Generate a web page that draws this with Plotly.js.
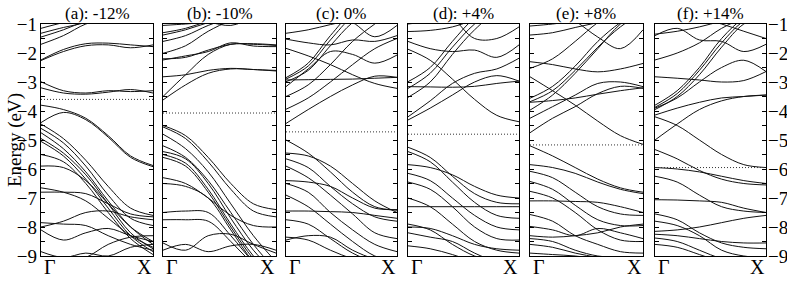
<!DOCTYPE html>
<html><head><meta charset="utf-8">
<script src="https://cdn.plot.ly/plotly-3.0.1.min.js"></script>
<style>html,body{margin:0;padding:0;background:#fff}#chart{width:787px;height:282px}</style>
</head><body><div id="chart"></div>
<script>
// k-path sample positions (Γ = 0, X = 1)
const K = [0, 0.2, 0.4, 0.6, 0.8, 1.0];
const panelTitles = ["(a): -12%", "(b): -10%", "(c): 0%", "(d): +4%", "(e): +8%", "(f): +14%"];
const kLabels = ["Γ", "X"];
const yAxisTitle = "Energy (eV)";
const fermiLevels = [-3.6, -4.07, -4.72, -4.8, -5.17, -5.95];
const yTickVals = [-9, -8, -7, -6, -5, -4, -3, -2, -1];

// (a) -12%
const bandsA = [
  [-1.15, -0.95, -0.8, -0.6, -0.5, -0.5],
  [-1.32, -1.12, -0.95, -0.7, -0.6, -0.5],
  [-1.45, -1.2, -0.9, -0.7, -0.6, -0.6],
  [-1.7, -1.4, -1.0, -0.8, -0.7, -0.7],
  [-2.24, -1.88, -1.68, -1.66, -1.72, -1.78],
  [-2.26, -1.95, -1.75, -1.72, -1.82, -1.72],
  [-2.99, -3.3, -3.38, -3.3, -3.33, -3.3],
  [-3.2, -3.38, -3.42, -3.35, -3.26, -3.38],
  [-3.8, -3.95, -4.25, -4.85, -5.55, -5.88],
  [-4.4, -4.05, -4.3, -4.9, -5.6, -5.92],
  [-4.45, -4.95, -5.7, -6.6, -7.35, -7.6],
  [-4.6, -5.1, -5.9, -6.9, -7.7, -7.95],
  [-4.75, -5.3, -6.1, -7.1, -8.0, -8.6],
  [-4.95, -5.45, -6.2, -7.2, -8.2, -8.75],
  [-5.05, -5.55, -6.35, -7.35, -8.3, -8.85],
  [-5.5, -5.75, -6.5, -7.5, -8.4, -8.95],
  [-5.9, -5.95, -6.4, -7.2, -8.0, -8.5],
  [-6.65, -6.8, -7.1, -7.7, -8.3, -8.7],
  [-6.8, -6.8, -6.85, -7.2, -7.55, -7.65],
  [-7.85, -7.9, -7.95, -8.3, -8.6, -8.8],
  [-8.0, -7.8, -7.5, -7.45, -7.65, -7.75],
  [-8.1, -8.45, -8.2, -8.05, -8.3, -8.5],
  [-8.85, -9.05, -8.9, -9.0, -8.7, -8.6],
  [-9.3, -9.2, -9.05, -8.6, -8.35, -8.3]
];
// (b) -10%
const bandsB = [
  [-1.05, -1.0, -0.95, -1.05, -0.8, -0.7],
  [-1.3, -1.15, -0.9, -0.7, -0.6, -0.6],
  [-1.38, -1.2, -0.95, -0.75, -0.7, -0.7],
  [-1.6, -1.4, -1.05, -0.8, -0.7, -0.7],
  [-2.01, -1.75, -1.25, -0.9, -0.8, -0.8],
  [-2.24, -2.1, -1.95, -1.65, -1.76, -1.78],
  [-2.2, -2.15, -1.9, -1.7, -1.68, -1.72],
  [-2.82, -2.75, -2.6, -2.53, -2.57, -2.6],
  [-3.5, -2.75, -2.05, -1.7, -1.7, -1.74],
  [-3.62, -3.1, -2.7, -2.55, -2.57, -2.62],
  [-4.5, -4.85, -5.6, -6.5, -7.2, -7.4],
  [-4.55, -4.95, -5.75, -6.7, -7.45, -7.65],
  [-4.8, -5.3, -6.1, -7.2, -8.3, -9.2],
  [-5.2, -5.6, -6.4, -7.5, -8.6, -9.5],
  [-5.4, -5.65, -6.5, -7.7, -8.8, -9.6],
  [-5.5, -5.8, -6.7, -7.9, -9.0, -9.8],
  [-5.6, -5.9, -6.8, -8.0, -9.1, -9.9],
  [-6.3, -6.5, -7.0, -7.6, -7.95, -8.0],
  [-6.5, -6.6, -7.0, -8.1, -9.2, -9.9],
  [-7.5, -7.45, -7.5, -8.3, -9.2, -9.8],
  [-7.75, -7.75, -7.8, -8.5, -9.3, -10.0],
  [-8.55, -8.8, -8.3, -8.25, -8.6, -8.9],
  [-8.8, -8.6, -8.85, -8.65, -8.6, -8.8]
];
// (c) 0%
const bandsC = [
  [-1.32, -1.2, -1.02, -0.85, -0.7, -0.6],
  [-0.4, -0.5, -0.7, -0.95, -1.44, -1.05],
  [-1.52, -1.65, -1.72, -1.55, -1.6, -1.4],
  [-1.84, -2.1, -2.4, -2.75, -3.05, -3.22],
  [-2.93, -2.92, -2.91, -2.9, -2.87, -2.84],
  [-2.85, -2.35, -1.4, -0.6, -0.3, -0.2],
  [-2.9, -2.45, -1.55, -0.75, -0.4, -0.3],
  [-2.99, -2.6, -1.75, -0.95, -0.5, -0.4],
  [-3.16, -2.55, -1.95, -2.05, -2.35, -2.07],
  [-3.5, -3.1, -2.4, -1.6, -1.0, -0.5],
  [-3.94, -3.55, -3.0, -2.4, -1.85, -1.5],
  [-4.43, -3.95, -3.5, -3.1, -2.8, -2.84],
  [-5.0, -5.45, -6.1, -6.8, -7.3, -7.42],
  [-5.45, -5.55, -5.9, -6.5, -7.1, -7.5],
  [-5.65, -5.95, -6.6, -7.2, -7.65, -7.8],
  [-5.9, -6.3, -6.9, -7.55, -8.2, -8.4],
  [-6.4, -6.45, -6.6, -7.0, -7.35, -7.4],
  [-6.5, -6.8, -7.5, -8.1, -8.6, -8.85],
  [-6.9, -7.3, -7.9, -8.5, -9.0, -9.2],
  [-7.45, -7.45, -7.47, -7.5, -7.6, -7.7],
  [-7.75, -7.9, -8.4, -8.9, -9.2, -9.3],
  [-8.35, -8.45, -8.8, -9.1, -9.3, -9.4],
  [-8.45, -8.3, -8.35, -8.8, -9.1, -9.2]
];
// (d) +4%
const bandsD = [
  [-1.0, -0.9, -0.75, -0.6, -0.5, -0.5],
  [-1.26, -1.22, -1.1, -0.85, -0.6, -0.5],
  [-0.2, -0.45, -0.8, -1.5, -1.5, -1.1],
  [-1.6, -1.85, -1.95, -1.9, -2.15, -1.72],
  [-1.87, -2.25, -2.9, -3.6, -4.15, -4.37],
  [-3.16, -3.17, -3.18, -3.15, -3.05, -2.97],
  [-2.99, -2.5, -1.6, -0.8, -0.4, -0.3],
  [-3.22, -2.7, -1.8, -1.0, -0.5, -0.4],
  [-3.53, -3.0, -2.05, -1.2, -0.6, -0.5],
  [-4.2, -3.65, -3.05, -2.7, -2.55, -2.18],
  [-4.31, -3.9, -3.45, -3.0, -2.78, -2.97],
  [-5.25, -5.6, -6.25, -6.85, -7.15, -7.2],
  [-5.4, -5.75, -6.45, -7.15, -7.6, -7.7],
  [-5.85, -5.95, -6.2, -6.6, -6.9, -7.0],
  [-6.15, -6.4, -7.0, -7.6, -8.0, -8.1],
  [-6.45, -6.7, -7.3, -8.0, -8.4, -8.45],
  [-7.3, -7.3, -7.3, -7.3, -7.3, -7.3],
  [-7.0, -7.3, -7.9, -8.5, -8.8, -8.9],
  [-7.9, -8.1, -8.6, -9.0, -9.2, -9.3],
  [-8.0, -8.05, -8.3, -8.6, -8.75, -8.8],
  [-8.2, -8.35, -8.5, -8.9, -9.2, -9.3],
  [-8.65, -8.75, -8.95, -9.2, -9.4, -9.5]
];
// (e) +8%
const bandsE = [
  [-1.07, -1.0, -0.9, -0.8, -0.7, -0.6],
  [-1.38, -1.3, -1.12, -0.95, -0.8, -0.7],
  [-0.2, -0.5, -0.9, -1.45, -1.85, -1.2],
  [-2.3, -2.4, -2.55, -2.65, -2.55, -2.36],
  [-2.53, -2.2, -1.6, -0.95, -0.5, -0.3],
  [-2.82, -3.3, -3.8, -4.35, -4.85, -5.15],
  [-3.56, -3.15, -2.45, -1.6, -0.95, -0.5],
  [-3.68, -3.3, -2.6, -1.8, -1.1, -0.6],
  [-3.97, -3.45, -2.7, -1.85, -1.0, -0.5],
  [-3.7, -3.64, -3.55, -3.42, -3.3, -3.2],
  [-4.25, -3.85, -3.45, -3.05, -3.0, -3.16],
  [-4.75, -4.25, -3.85, -3.4, -3.15, -3.22],
  [-5.2, -5.55, -5.95, -6.35, -6.65, -6.8],
  [-5.85, -5.95, -6.15, -6.45, -6.7, -6.85],
  [-6.08, -6.3, -6.8, -7.3, -7.55, -7.6],
  [-6.43, -6.7, -7.25, -7.75, -7.95, -7.95],
  [-6.77, -7.0, -7.5, -8.1, -8.45, -8.5],
  [-7.1, -7.1, -7.12, -7.15, -7.3, -7.5],
  [-7.57, -7.8, -8.3, -8.6, -8.85, -8.9],
  [-7.98, -8.1, -8.3, -8.05, -8.2, -8.4],
  [-8.3, -8.35, -8.3, -8.2, -8.0, -7.9],
  [-8.4, -8.5, -8.8, -9.0, -9.05, -9.1],
  [-8.6, -8.7, -8.9, -9.05, -9.2, -9.3],
  [-8.9, -8.95, -9.0, -9.1, -9.2, -9.3]
];
// (f) +14%
const bandsF = [
  [-1.4, -1.15, -1.55, -1.6, -1.95, -1.7],
  [-1.35, -1.25, -1.1, -0.9, -0.7, -0.6],
  [-0.4, -0.6, -0.8, -1.0, -1.25, -1.5],
  [-2.24, -2.0, -1.65, -1.15, -0.8, -0.6],
  [-2.82, -2.87, -2.93, -3.0, -2.95, -2.64],
  [-3.8, -3.3, -2.5, -1.5, -0.8, -0.5],
  [-3.87, -3.4, -2.6, -1.65, -0.9, -0.6],
  [-3.95, -3.5, -2.75, -1.8, -1.0, -0.7],
  [-3.9, -3.55, -3.0, -2.5, -2.25, -2.64],
  [-4.14, -3.9, -3.7, -3.55, -3.5, -3.45],
  [-4.2, -4.5, -5.0, -5.5, -5.85, -5.95],
  [-5.0, -4.45, -3.95, -3.65, -3.5, -3.45],
  [-5.33, -5.65, -6.05, -6.35, -6.5, -6.55],
  [-5.95, -6.0, -6.1, -6.25, -6.4, -6.5],
  [-6.25, -6.45, -6.9, -7.3, -7.45, -7.5],
  [-7.06, -7.07, -7.1, -7.15, -7.35, -7.5],
  [-7.55, -7.75, -8.2, -8.55, -8.7, -8.75],
  [-7.8, -7.95, -8.3, -8.8, -9.0, -9.05],
  [-8.15, -8.1, -8.0, -7.85, -7.7, -7.6],
  [-8.25, -8.3, -8.4, -8.5, -8.55, -8.55],
  [-8.38, -8.5, -8.8, -9.1, -9.3, -9.4],
  [-8.6, -8.7, -8.95, -9.2, -9.4, -9.5]
];

const allBands = [bandsA, bandsB, bandsC, bandsD, bandsE, bandsF];

const W = 787, H = 282;
const panelPx = [[41, 153], [163, 276], [286, 397], [408, 519], [530, 643], [655, 766]];
const yDom = [1 - 256 / H, 1 - 24 / H];
const serif = "Liberation Serif";

const traces = [];
const layout = {
  width: W, height: H,
  margin: {l: 0, r: 0, t: 0, b: 0},
  paper_bgcolor: "#fff", plot_bgcolor: "#fff",
  showlegend: false,
  font: {family: serif, size: 18, color: "#000"},
  annotations: []
};

allBands.forEach((bands, i) => {
  const n = i + 1;
  const xa = "x" + (n === 1 ? "" : n), ya = "y" + (n === 1 ? "" : n);
  bands.forEach(b => traces.push({
    x: K, y: b, xaxis: xa, yaxis: ya, type: "scatter", mode: "lines",
    line: {color: "#111", width: 1, shape: "spline", smoothing: 1},
    hoverinfo: "skip"
  }));
  traces.push({
    x: [0, 1], y: [fermiLevels[i], fermiLevels[i]], xaxis: xa, yaxis: ya,
    type: "scatter", mode: "lines", line: {color: "#333", width: 1, dash: "1px,2px"},
    hoverinfo: "skip"
  });
  const dom = [panelPx[i][0] / W, panelPx[i][1] / W];
  layout["xaxis" + (n === 1 ? "" : n)] = {
    domain: dom, range: [0, 1], anchor: ya,
    showgrid: false, zeroline: false, showticklabels: false, ticks: "",
    showline: true, mirror: true, linecolor: "#000", linewidth: 1.2, fixedrange: true
  };
  const yax = {
    domain: yDom, range: [-9, -1], anchor: xa,
    showgrid: false, zeroline: false,
    showline: true, mirror: "allticks", linecolor: "#000", linewidth: 1.2,
    ticks: "inside", ticklen: 4, tickwidth: 1, tickcolor: "#000",
    tickvals: yTickVals,
    minor: {dtick: 0.5, ticks: "inside", ticklen: 4, tickwidth: 1, tickcolor: "#000"},
    showticklabels: (n === 1 || n === 6),
    tickfont: {family: serif, size: 19, color: "#000"},
    fixedrange: true
  };
  if (n === 6) { yax.side = "right"; yax.ticklabelstandoff = -3; }
  if (n === 1) { yax.ticklabelstandoff = -1; }
  layout["yaxis" + (n === 1 ? "" : n)] = yax;

  layout.annotations.push({
    text: panelTitles[i], xref: "paper", yref: "paper",
    x: (dom[0] + dom[1]) / 2, y: yDom[1], yanchor: "bottom", xanchor: "center", yshift: -1,
    showarrow: false, font: {family: serif, size: 17, color: "#000"}
  });
  layout.annotations.push({
    text: kLabels[0], xref: xa, yref: "paper", x: 0, y: yDom[0],
    xanchor: "left", yanchor: "top", xshift: 1, yshift: 2, showarrow: false,
    font: {family: serif, size: 20, color: "#000"}
  });
  layout.annotations.push({
    text: kLabels[1], xref: xa, yref: "paper", x: 1, y: yDom[0],
    xanchor: "right", yanchor: "top", xshift: 1, yshift: 2, showarrow: false,
    font: {family: serif, size: 20, color: "#000"}
  });
});

layout.annotations.push({
  text: yAxisTitle, xref: "paper", yref: "paper", x: 15 / W, y: (yDom[0] + yDom[1]) / 2,
  xanchor: "center", yanchor: "middle", textangle: -90, showarrow: false,
  font: {family: serif, size: 19, color: "#000"}
});

Plotly.newPlot("chart", traces, layout, {staticPlot: true, displayModeBar: false});
</script></body></html>
